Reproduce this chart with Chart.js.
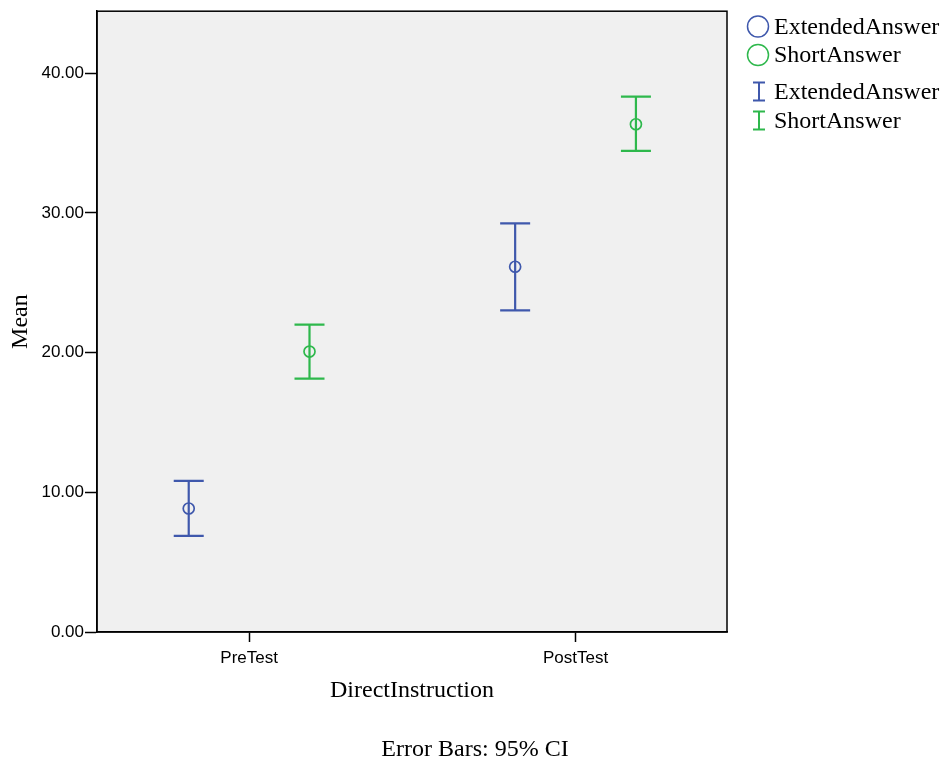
<!DOCTYPE html>
<html>
<head>
<meta charset="utf-8">
<script src="https://cdn.jsdelivr.net/npm/chart.js@4/dist/chart.umd.min.js"></script>
<style>
body { margin: 0; background: #fff; }
#wrap { width: 946px; height: 764px; position: relative; }
</style>
</head>
<body>
<div id="wrap"><canvas id="myChart"></canvas></div>
<script>
// data
const categories = ['PreTest', 'PostTest'];
const seriesNames = ['ExtendedAnswer', 'ShortAnswer'];
const extendedMean = [8.84, 26.14];
const extendedLow = [6.88, 23.02];
const extendedHigh = [10.81, 29.24];
const shortMean = [20.07, 36.34];
const shortLow = [18.14, 34.43];
const shortHigh = [22.00, 38.31];
const yTicks = [0, 10, 20, 30, 40];

const blue = '#3f58ac';
const green = '#2eb84c';
const groupOffset = 0.185;   // how far each series sits from the category centre
const serif = "'Liberation Serif', 'Times New Roman', serif";
const sans = "'Liberation Sans', Arial, sans-serif";

function makePoints(mean, low, high, off) {
    var pts = [];
    for (let i = 0; i < categories.length; i++) {
        pts.push({ x: i + off, y: mean[i], lo: low[i], hi: high[i] });
    }
    return pts;
}

// grey plot background + box round it
const plotBox = {
    id: 'plotBox',
    beforeDraw(chart) {
        const a = chart.chartArea, ctx = chart.ctx;
        ctx.save();
        ctx.fillStyle = '#f0f0f0';
        ctx.fillRect(a.left, a.top, a.right - a.left, a.bottom - a.top);
        ctx.restore();
    },
    afterDraw(chart) {
        const a = chart.chartArea, ctx = chart.ctx;
        ctx.save();
        ctx.strokeStyle = '#000';
        ctx.lineWidth = 1.5;
        ctx.strokeRect(a.left, a.top, a.right - a.left, a.bottom - a.top);
        ctx.restore();
    }
};

// 95% CI whiskers, placed through the chart scales
const errorBars = {
    id: 'errorBars',
    afterDatasetsDraw(chart) {
        const ctx = chart.ctx;
        const xs = chart.scales.x, ys = chart.scales.y;
        ctx.save();
        chart.data.datasets.forEach(ds => {
            ctx.strokeStyle = ds.borderColor;
            ctx.lineWidth = 2.2;
            ds.data.forEach(p => {
                const x = xs.getPixelForValue(p.x);
                const top = ys.getPixelForValue(p.hi);
                const bot = ys.getPixelForValue(p.lo);
                ctx.beginPath();
                ctx.moveTo(x, top); ctx.lineTo(x, bot);
                ctx.moveTo(x - 15, top); ctx.lineTo(x + 15, top);
                ctx.moveTo(x - 15, bot); ctx.lineTo(x + 15, bot);
                ctx.stroke();
            });
        });
        ctx.restore();
    }
};

// legend on the right (circles, then whisker symbols) and the footnote
const sideLegend = {
    id: 'sideLegend',
    afterDraw(chart) {
        const ctx = chart.ctx;
        const colors = [blue, green];
        const x0 = chart.chartArea.right;
        ctx.save();
        ctx.font = '24px ' + serif;
        ctx.textBaseline = 'middle';
        ctx.textAlign = 'left';
        for (let i = 0; i < seriesNames.length; i++) {
            const y = 26.5 + i * 28.5;
            ctx.strokeStyle = colors[i];
            ctx.lineWidth = 1.5;
            ctx.beginPath();
            ctx.arc(x0 + 31, y, 10.5, 0, Math.PI * 2);
            ctx.stroke();
            ctx.fillStyle = '#000';
            ctx.fillText(seriesNames[i], x0 + 47, y + 1);
        }
        for (let i = 0; i < seriesNames.length; i++) {
            const y = 91.5 + i * 29;
            ctx.strokeStyle = colors[i];
            ctx.lineWidth = 2;
            ctx.beginPath();
            ctx.moveTo(x0 + 32, y - 9); ctx.lineTo(x0 + 32, y + 9);
            ctx.moveTo(x0 + 26, y - 9); ctx.lineTo(x0 + 38, y - 9);
            ctx.moveTo(x0 + 26, y + 9); ctx.lineTo(x0 + 38, y + 9);
            ctx.stroke();
            ctx.fillStyle = '#000';
            ctx.fillText(seriesNames[i], x0 + 47, y + 1);
        }
        ctx.textAlign = 'center';
        ctx.fillText('Error Bars: 95% CI', 475, 750);
        ctx.restore();
    }
};

var ctx = document.getElementById('myChart');
var chart = new Chart(ctx, {
    type: 'scatter',
    data: {
        datasets: [{
            label: seriesNames[0],
            data: makePoints(extendedMean, extendedLow, extendedHigh, -groupOffset),
            borderColor: blue,
            backgroundColor: 'rgba(0,0,0,0)',
            pointRadius: 5.5,
            pointBorderWidth: 1.7,
            pointHoverRadius: 5.5
        }, {
            label: seriesNames[1],
            data: makePoints(shortMean, shortLow, shortHigh, groupOffset),
            borderColor: green,
            backgroundColor: 'rgba(0,0,0,0)',
            pointRadius: 5.5,
            pointBorderWidth: 1.7,
            pointHoverRadius: 5.5
        }]
    },
    options: {
        responsive: true,
        maintainAspectRatio: false,
        animation: false,
        devicePixelRatio: 1,
        layout: { padding: { top: 10, right: 219, bottom: 0, left: 0 } },
        plugins: {
            legend: { display: false },
            tooltip: { enabled: false }
        },
        scales: {
            x: {
                type: 'linear',
                min: -0.466,
                max: 1.464,
                afterBuildTicks: s => { s.ticks = categories.map((c, i) => ({ value: i })); },
                afterFit: s => { s.height = 132; },
                ticks: {
                    callback: v => categories[v],
                    color: '#000',
                    font: { family: sans, size: 17 },
                    padding: 6,
                    maxRotation: 0,
                    autoSkip: false
                },
                grid: { drawOnChartArea: false, drawTicks: true, tickLength: 10, tickColor: '#000', tickWidth: 1.5 },
                border: { display: true, color: '#000', width: 1.5 },
                title: {
                    display: true,
                    text: 'DirectInstruction',
                    color: '#000',
                    font: { family: serif, size: 24 },
                    padding: { top: 0, bottom: 58.6 }
                }
            },
            y: {
                min: 0,
                max: 44.43,
                afterBuildTicks: s => { s.ticks = yTicks.map(v => ({ value: v })); },
                afterFit: s => { s.width = 97; },
                ticks: {
                    callback: v => v.toFixed(2),
                    color: '#000',
                    font: { family: sans, size: 17 },
                    padding: 1
                },
                grid: { drawOnChartArea: false, drawTicks: true, tickLength: 12, tickColor: '#000', tickWidth: 1.5 },
                border: { display: true, color: '#000', width: 1.5 },
                title: {
                    display: true,
                    text: 'Mean',
                    color: '#000',
                    font: { family: serif, size: 24 },
                    padding: { top: 6.5, bottom: 0 }
                }
            }
        }
    },
    plugins: [plotBox, errorBars, sideLegend]
});
</script>
</body>
</html>
